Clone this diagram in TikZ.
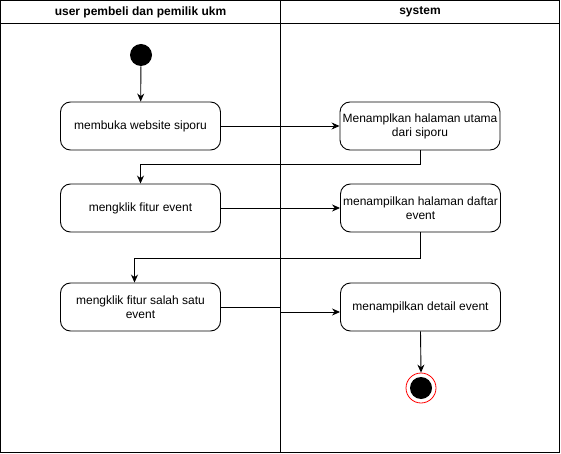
\documentclass[tikz,border=0pt]{standalone}
\usepackage{fontspec}
\setmainfont{Liberation Sans}
\usetikzlibrary{arrows.meta}

\begin{document}
\begin{tikzpicture}[x=1pt, y=-1pt, line width=0.9pt,
  act/.style={draw, rounded corners=10pt, minimum width=160pt, minimum height=48pt, align=center, inner sep=1pt, font=\fontsize{12}{14}\selectfont},
  lane/.style={font=\bfseries\fontsize{12}{14}\selectfont},
  flow/.style={-{Stealth[length=8pt,width=7pt]}}]
  \useasboundingbox (0,0) rectangle (561,454);
  % swimlanes
  \draw (0.5,0.5) rectangle (559.5,452.5);
  \draw (0.5,23) -- (559.5,23);
  \draw (280.5,0.5) -- (280.5,452.5);
  \node [lane] (pembeli) at (140.5,12) {user pembeli dan pemilik ukm};
  \node [lane] (system) at (420,12) {system};
  % activities
  \node [circle, fill=black, minimum size=22pt, inner sep=0pt] (start) at (141,55) {};
  \node [act] (buka) at (140.5,126) {membuka website siporu};
  \node [act] (utama) at (420,126) {Menamplkan halaman utama\\dari siporu};
  \node [act] (klikevent) at (140.5,208) {mengklik fitur event};
  \node [act] (daftar) at (420.5,208) {menampilkan halaman daftar\\event};
  \node [act] (kliksatu) at (140.5,307) {mengklik fitur salah satu\\event};
  \node [act] (detail) at (420.5,307) {menampilkan detail event};
  \node [circle, draw=red, line width=0.8pt, minimum size=30pt, inner sep=0pt] (finish) at (421,388) {};
  \node [circle, fill=black, minimum size=22pt, inner sep=0pt] (finishdot) at (finish) {};
  \coordinate (bend) at (280.5,307);
  % flows
  \draw [flow] (start) -- (buka);
  \draw [flow] (buka) -- (utama);
  \draw [flow] (utama.south) -- ++(0,14) -| (klikevent.north);
  \draw [flow] (klikevent) -- (daftar);
  \draw [flow] (daftar.south) -- ++(0,26) -| ([xshift=-6pt]kliksatu.north);
  \draw [flow] (kliksatu.east) -- (bend) |- ([yshift=-5pt]detail.west);
  \draw [flow] (detail.south) -- (finish.north);
\end{tikzpicture}
\end{document}
